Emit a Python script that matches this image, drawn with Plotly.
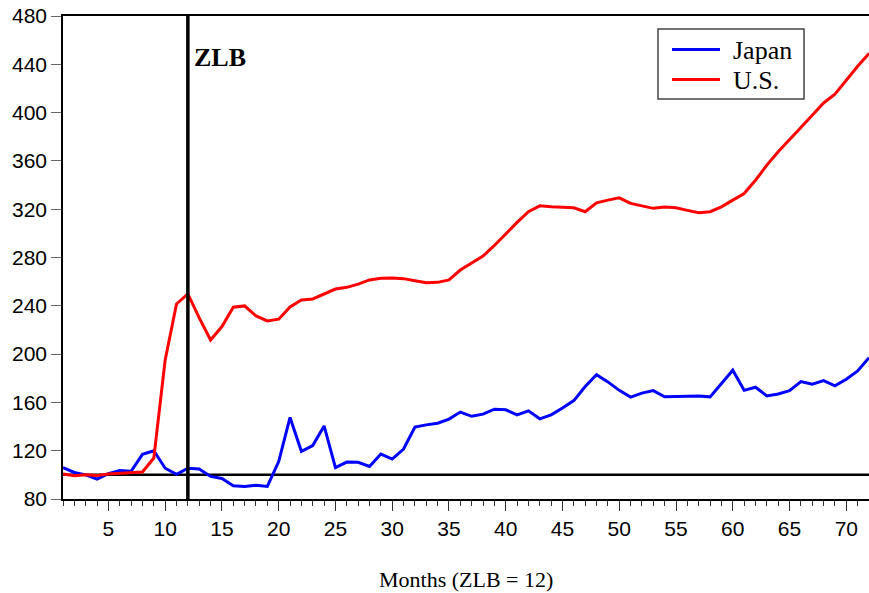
import plotly.graph_objects as go

# Months since the start of the sample; the zero lower bound is hit in month 12
months = list(range(1, 73))
zlb_month = 12

japan = [106, 102, 100, 96.5, 101, 103.5, 103, 117, 120, 105.5,
         100.5, 105.5, 104.8, 98.7, 97, 91, 90.4, 91.4, 90.4, 111,
         147.5, 119.5, 124.3, 140.5, 106, 110.6, 110.4, 107, 117.2, 113.1,
         121.4, 139.5, 141.4, 142.8, 146.2, 152, 148.5, 150.3, 154.4, 153.9,
         149.7, 153, 146.4, 149.7, 155.3, 161.5, 173.1, 183, 177, 170,
         164.4, 167.7, 169.8, 164.6, 164.8, 165.2, 165.3, 164.6, 175.5, 186.7,
         170, 172.6, 165.4, 167, 169.8, 177.2, 175, 178, 173.7, 179.2,
         186, 197]

us = [100.7, 99.3, 100, 99.5, 100.7, 101.2, 101.9, 102.3, 113.9, 195.2,
      241.5, 249.8, 230, 211.7, 222.8, 238.8, 239.9, 231.6, 227.5, 228.9,
      239, 244.8, 245.7, 249.8, 253.9, 255.3, 258, 261.4, 262.8, 263,
      262.5, 260.8, 259.1, 259.4, 261.4, 269.6, 275.2, 281.2, 290, 300,
      309.1, 317.9, 322.8, 322, 321.5, 321.2, 317.9, 325.3, 327.5, 329.4,
      324.8, 322.6, 320.7, 321.8, 321.2, 319, 317, 317.9, 322, 327.5,
      333, 344, 356.5, 367.5, 378, 387.6, 397.8, 408, 415.2, 426.8,
      438.4, 448.9]

series_names = ["Japan", "U.S."]
series_colors = ["#0000ff", "#ff0000"]

baseline = 100
y_ticks = [80, 120, 160, 200, 240, 280, 320, 360, 400, 440, 480]
x_ticks = [5, 10, 15, 20, 25, 30, 35, 40, 45, 50, 55, 60, 65, 70]

SANS = "Liberation Sans, Arial, sans-serif"
SERIF = "Liberation Serif, Times New Roman, serif"

fig = go.Figure()
for name, values, color in zip(series_names, [japan, us], series_colors):
    fig.add_trace(go.Scatter(x=months, y=values, mode="lines", name=name,
                             line=dict(color=color, width=3)))

# Reference level at 100 (behind the series) and the ZLB marker (in front)
fig.add_shape(type="line", xref="paper", yref="y", x0=0, x1=1,
              y0=baseline, y1=baseline, layer="below",
              line=dict(color="black", width=2.5))
fig.add_shape(type="line", xref="x", yref="paper", x0=zlb_month, x1=zlb_month,
              y0=0, y1=1, layer="above",
              line=dict(color="black", width=3.5))

fig.add_annotation(x=zlb_month, y=446, xref="x", yref="y", text="<b>ZLB</b>",
                   showarrow=False, xanchor="left", yanchor="middle", xshift=4,
                   font=dict(family=SERIF, size=26, color="black"))

fig.add_annotation(x=0.5, y=-0.166, xref="paper", yref="paper",
                   text="Months (ZLB = 12)", showarrow=False,
                   xanchor="center", yanchor="middle",
                   font=dict(family=SERIF, size=22, color="black"))

# Boxed key in the upper right: frame, line samples and labels
fig.add_shape(type="rect", xref="paper", yref="paper",
              x0=0.7382, x1=0.9194, y0=0.8282, y1=0.9731, layer="above",
              fillcolor="white", line=dict(color="#444444", width=1.5))
for name, color, ky, ty in zip(series_names, series_colors,
                               [0.9307, 0.8685], [0.9296, 0.8665]):
    fig.add_shape(type="line", xref="paper", yref="paper",
                  x0=0.7556, x1=0.8151, y0=ky, y1=ky, layer="above",
                  line=dict(color=color, width=3))
    fig.add_annotation(x=0.8288, y=ty, xref="paper", yref="paper", text=name,
                       showarrow=False, xanchor="left", yanchor="middle",
                       font=dict(family=SERIF, size=26, color="black"))

fig.update_layout(
    width=869, height=593,
    margin=dict(l=63, r=0, t=16, b=94),
    paper_bgcolor="white", plot_bgcolor="white",
    showlegend=False,
    xaxis=dict(range=[1, 72], tickvals=x_ticks, showgrid=False, zeroline=False,
               showline=True, linecolor="black", linewidth=1.5, mirror=True,
               ticks="outside", ticklen=10, tickwidth=1.2, tickcolor="#333333",
               minor=dict(dtick=1, tick0=0, ticks="outside", ticklen=5,
                          tickwidth=1, tickcolor="#333333", showgrid=False),
               tickfont=dict(family=SANS, size=21, color="black")),
    yaxis=dict(range=[80, 480], tickvals=y_ticks, showgrid=False, zeroline=False,
               showline=True, linecolor="black", linewidth=1.5,
               ticks="outside", ticklen=10, tickwidth=1.2, tickcolor="#666666",
               tickfont=dict(family=SANS, size=21, color="black")),
)

fig.write_html("out.html")
